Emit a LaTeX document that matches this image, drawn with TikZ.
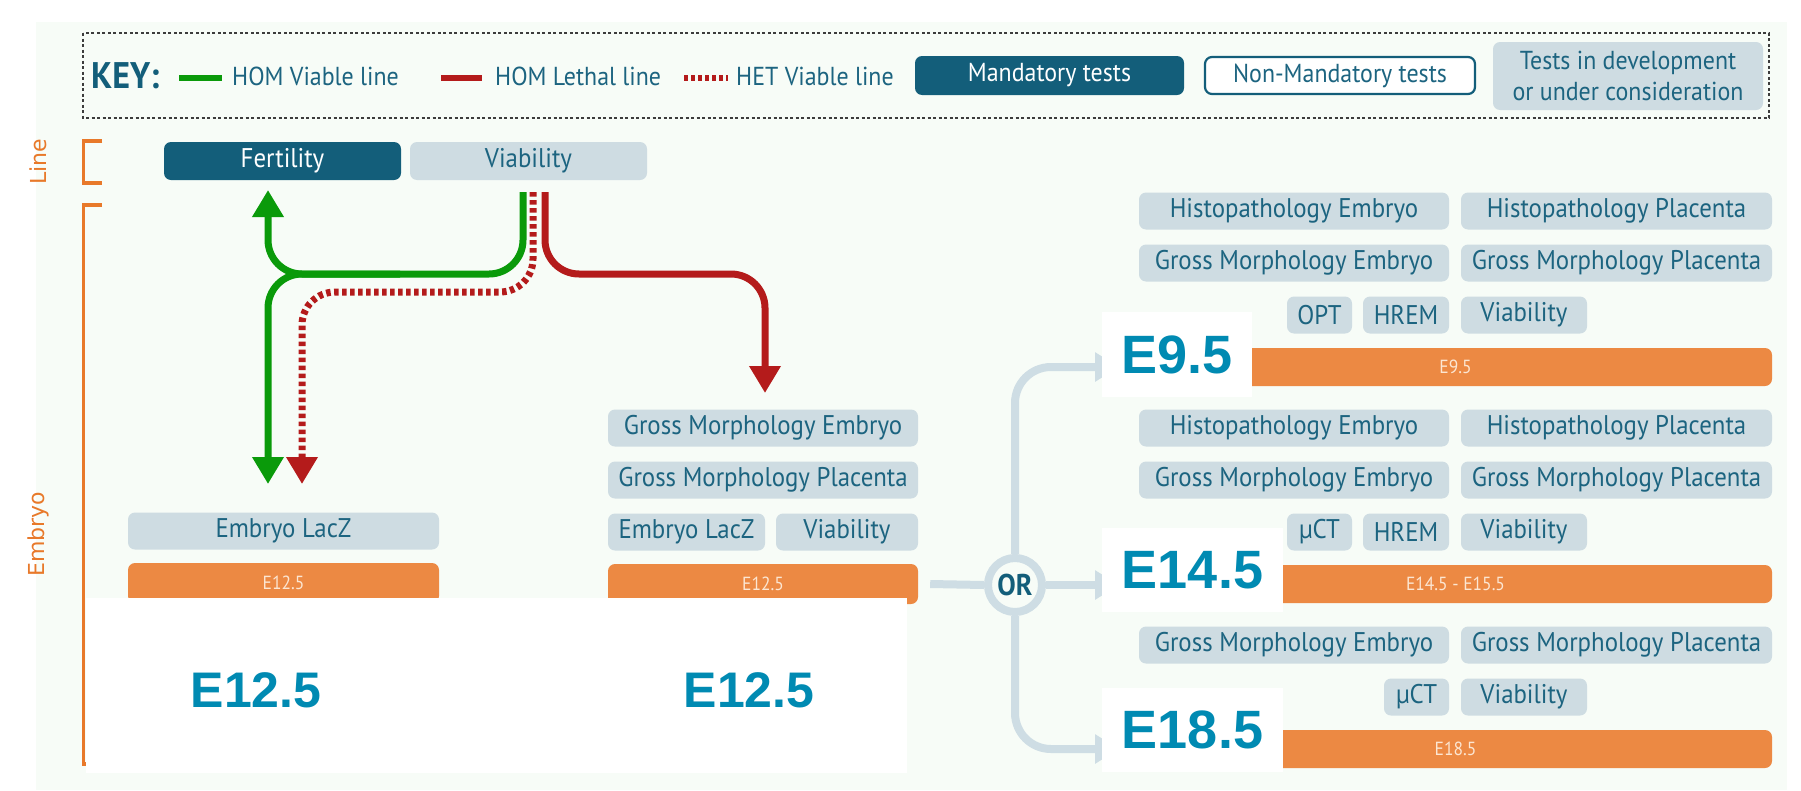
\documentclass[tikz,border=0pt]{standalone}
\usepackage{fontspec}
\setmainfont{PT Sans}[FakeStretch=0.92]
\newfontfamily\labfont{DejaVu Sans}
\newfontfamily\bigfont{Liberation Sans}
\usetikzlibrary{arrows.meta}

\definecolor{tint}{RGB}{247,252,247}
\definecolor{darkteal}{RGB}{19,94,122}
\definecolor{boxfill}{RGB}{206,220,226}
\definecolor{boxtext}{RGB}{28,100,128}
\definecolor{barorange}{RGB}{236,137,67}
\definecolor{barcream}{RGB}{252,230,210}
\definecolor{bracketorange}{RGB}{232,121,42}
\definecolor{hgreen}{RGB}{10,154,10}
\definecolor{hred}{RGB}{180,27,27}
\definecolor{bigblue}{RGB}{0,138,178}
\definecolor{linkgray}{RGB}{206,221,228}
\definecolor{keydash}{RGB}{60,60,60}

\tikzset{
  test/.style={fill=boxfill, text=boxtext, rounded corners=7pt, inner sep=0pt,
    minimum height=37pt, font=\fontsize{27}{32}\selectfont},
  mand/.style={test, fill=darkteal, text=white},
  bar/.style={fill=barorange, text=barcream, rounded corners=7pt, inner sep=0pt,
    minimum height=38pt, font=\fontsize{19}{21}\selectfont},
  stage/.style={fill=white, text=bigblue, inner sep=0pt,
    font=\bigfont\bfseries\fontsize{54}{60}\selectfont},
  keytext/.style={anchor=west, text=boxtext, inner sep=0pt, font=\fontsize{26}{30}\selectfont},
  sidelabel/.style={rotate=90, text=bracketorange, inner sep=0pt, font=\labfont\fontsize{22}{26}\selectfont},
  bracket/.style={draw=bracketorange, line width=3.5pt},
  hom/.style={draw=hgreen, line width=7pt, rounded corners=34pt},
  lethal/.style={draw=hred, line width=7pt, rounded corners=34pt},
  het/.style={draw=hred, line width=7pt, rounded corners=33pt, dash pattern=on 4.5pt off 3.5pt},
  tip/.style={-{Triangle[width=30pt,length=27pt]}},
  link/.style={draw=linkgray, line width=8pt, rounded corners=36pt},
  linktip/.style={-{Triangle[width=28pt,length=24pt]}}
}

\begin{document}
\begin{tikzpicture}[x=1pt, y=-1pt]
\useasboundingbox (0,0) rectangle (1801,790);
\fill[white] (0,0) rectangle (1801,790);
\fill[tint] (36,22) rectangle (1787,790);

% ---------- key ----------
\draw[keydash, line width=2pt, dash pattern=on 3pt off 2.5pt] (83,33) rectangle (1769,118);
\node[anchor=west, inner sep=0pt, text=darkteal, font=\bfseries\fontsize{37}{42}\selectfont] (key) at (91,76) {KEY:};
\coordinate (kg1) at (179,78); \coordinate (kg2) at (222,78);
\draw[hgreen, line width=6pt] (kg1) -- (kg2);
\node[keytext] (khv) at (232,76) {HOM Viable line};
\coordinate (kr1) at (441,78); \coordinate (kr2) at (482,78);
\draw[hred, line width=6pt] (kr1) -- (kr2);
\node[keytext] (khl) at (495,76) {HOM Lethal line};
\coordinate (kd1) at (684,78); \coordinate (kd2) at (728,78);
\draw[hred, line width=6pt, dash pattern=on 4pt off 3pt] (kd1) -- (kd2);
\node[keytext] (khet) at (736,76) {HET Viable line};
\node[mand, minimum width=269pt, minimum height=39pt, font=\fontsize{26}{30}\selectfont] (kmand) at (1049.5,75.5) {Mandatory tests};
\node[test, fill=white, draw=darkteal, line width=2.2pt, minimum width=270pt, minimum height=37pt,
  font=\fontsize{26}{30}\selectfont] (knon) at (1340,75.5) {Non-Mandatory tests};
\node[test, minimum width=270pt, minimum height=68pt, align=center,
  font=\fontsize{26}{31}\selectfont] (kdev) at (1628,76) {Tests in development\\or under consideration};

% ---------- side brackets ----------
\node[sidelabel] (linelab) at (38,162) {Line};
\draw[bracket] (102,141) -- (83.5,141) -- (83.5,183) -- (102,183);
\node[sidelabel] (embryolab) at (38,534) {Embryo};
\draw[bracket] (102,205) -- (83.5,205) -- (83.5,764) -- (90,764);

% ---------- line tests ----------
\node[mand, minimum width=237pt, minimum height=38pt] (fert) at (282.5,161) {Fertility};
\node[test, minimum width=237pt, minimum height=38pt] (viab) at (528.5,161) {Viability};

% ---------- E12.5 (HOM viable / HET) ----------
\node[test, minimum width=311pt] (lacL) at (283.5,531) {Embryo LacZ};
\node[bar, minimum width=311pt, minimum height=40pt] (barL) at (283.5,583) {E12.5};

% ---------- E12.5 (HOM lethal) ----------
\node[test, minimum width=310pt] (gmeM) at (763,428) {Gross Morphology Embryo};
\node[test, minimum width=310pt] (gmpM) at (763,480) {Gross Morphology Placenta};
\node[test, minimum width=157pt] (lacM) at (686.5,532) {Embryo LacZ};
\node[test, minimum width=142pt] (viaM) at (847,532) {Viability};
\node[bar, minimum width=310pt, minimum height=40pt] (barM) at (763,584) {E12.5};

% ---------- flow from the line tests ----------
\coordinate (gsrc) at ([xshift=-5.5pt,yshift=-12pt]viab.south);
\coordinate (dsrc) at ([xshift=4.5pt,yshift=-12pt]viab.south);
\coordinate (rsrc) at ([xshift=16.5pt,yshift=-12pt]viab.south);
\coordinate (gup) at (268,190);
\coordinate (gdown) at (268,484);
\coordinate (ddown) at (302,484);
\coordinate (rdown) at (765,393);
\draw[hom, tip] (gsrc) -- (523,274) -- (268,274) -- (gup);
\draw[hom, tip] (400,274) -- (268,274) -- (gdown);
\draw[het, tip] (dsrc) -- (533,292) -- (302,292) -- (ddown);
\draw[lethal, tip] (rsrc) -- (545,274) -- (765,274) -- (rdown);

% ---------- E9.5 ----------
\node[test, minimum width=310pt] (hpe9) at (1294,211) {Histopathology Embryo};
\node[test, minimum width=311pt] (hpp9) at (1616.5,211) {Histopathology Placenta};
\node[test, minimum width=310pt] (gme9) at (1294,263) {Gross Morphology Embryo};
\node[test, minimum width=311pt] (gmp9) at (1616.5,263) {Gross Morphology Placenta};
\node[test, minimum width=65pt] (opt9) at (1319.5,315) {OPT};
\node[test, minimum width=86pt] (hrem9) at (1406,315) {HREM};
\node[test, minimum width=126pt] (via9) at (1524,315) {Viability};
\node[bar, minimum width=633pt] (bar9) at (1455.5,367) {E9.5};

% ---------- E14.5 ----------
\node[test, minimum width=310pt] (hpe14) at (1294,428) {Histopathology Embryo};
\node[test, minimum width=311pt] (hpp14) at (1616.5,428) {Histopathology Placenta};
\node[test, minimum width=310pt] (gme14) at (1294,480) {Gross Morphology Embryo};
\node[test, minimum width=311pt] (gmp14) at (1616.5,480) {Gross Morphology Placenta};
\node[test, minimum width=65pt] (ct14) at (1319.5,532) {µCT};
\node[test, minimum width=86pt] (hrem14) at (1406,532) {HREM};
\node[test, minimum width=126pt] (via14) at (1524,532) {Viability};
\node[bar, minimum width=633pt] (bar14) at (1455.5,584) {E14.5 - E15.5};

% ---------- E18.5 ----------
\node[test, minimum width=310pt] (gme18) at (1294,645) {Gross Morphology Embryo};
\node[test, minimum width=311pt] (gmp18) at (1616.5,645) {Gross Morphology Placenta};
\node[test, minimum width=65pt] (ct18) at (1416.5,697) {µCT};
\node[test, minimum width=126pt] (via18) at (1524,697) {Viability};
\node[bar, minimum width=633pt] (bar18) at (1455.5,749) {E18.5};

% ---------- OR split ----------
\node[circle, draw=linkgray, line width=8pt, fill=tint, minimum size=54pt, inner sep=0pt,
  text=darkteal, font=\bfseries\fontsize{30}{32}\selectfont] (or) at (1015,585) {OR};
\coordinate (e9tip) at (1119,367);
\coordinate (e14tip) at (1119,585);
\coordinate (e18tip) at (1119,749);
\draw[link] ([xshift=12pt]barM.east) -- (or.west);
\draw[link, linktip] (or.north) -- (1015,367) -- (e9tip);
\draw[link, linktip] (or.east) -- (e14tip);
\draw[link, linktip] (or.south) -- (1015,749) -- (e18tip);

% ---------- stage labels ----------
\node[stage, minimum width=150pt, minimum height=85pt] (e9) at (1177,354.5) {E9.5};
\node[stage, minimum width=181pt, minimum height=84pt] (e14) at (1192.5,570) {E14.5};
\node[stage, minimum width=181pt, minimum height=84pt] (e18) at (1192.5,730) {E18.5};

\node[fill=white, inner sep=0pt, minimum width=821pt, minimum height=175pt, anchor=north west] (cover) at (86,598) {};
\node[stage, fill=none, font=\bigfont\bfseries\fontsize{50}{56}\selectfont] (e12a) at (256,690) {E12.5};
\node[stage, fill=none, font=\bigfont\bfseries\fontsize{50}{56}\selectfont] (e12b) at (749,690) {E12.5};
\end{tikzpicture}
\end{document}
